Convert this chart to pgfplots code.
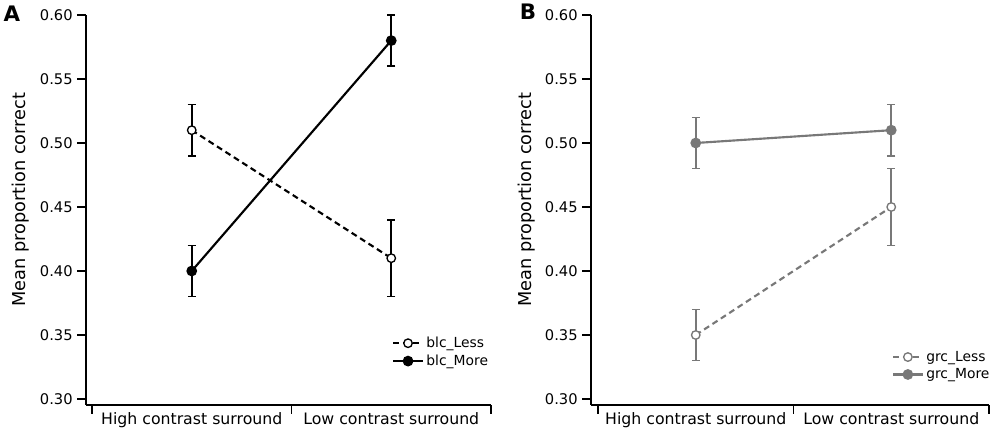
\documentclass[border=0pt]{standalone}
\usepackage{fontspec}
\setmainfont{DejaVu Sans}
\usepackage{pgfplots}
\pgfplotsset{compat=1.18}
\definecolor{grc}{RGB}{120,120,120}

\pgfplotsset{
  panel/.style={
    scale only axis,
    height=292.5pt,
    axis x line=bottom, axis y line=left,
    axis line style={line width=1.4pt, -},
    xmax=2, ymin=0.2953, ymax=0.60,
    xtick={0,1,2}, xticklabels={,,},
    extra x ticks={0.5,1.5},
    extra x tick labels={High contrast surround, Low contrast surround},
    extra x tick style={major tick length=0pt, tick style={draw=none},
      xticklabel style={font=\fontsize{11.8}{13}\selectfont, yshift=-2pt}},
    ytick={0.30,0.35,0.40,0.45,0.50,0.55,0.60},
    yticklabel style={/pgf/number format/.cd, fixed, fixed zerofill, precision=2, /tikz/.cd, font=\fontsize{11}{12}\selectfont},
    /pgf/number format/assume math mode=true,
    tick align=outside,
    major tick length=6.5pt,
    tick style={line width=1.1pt, black},
    ylabel={Mean proportion correct},
    every axis y label/.style={rotate=90, anchor=center, font=\fontsize{13.3}{15}\selectfont},
    clip=false,
    error bars/y dir=both, error bars/y explicit,
    error bars/error bar style={solid, line width=1.2pt},
    error bars/error mark options={solid, line width=1.2pt, mark size=3pt, rotate=90},
    legend cell align=left,
    legend image code/.code={\draw[mark repeat=2,mark phase=2] plot coordinates {(0pt,0pt) (11pt,0pt) (22pt,0pt)};},
    legend style={draw=none, fill=none, font=\fontsize{10.4}{12}\selectfont, anchor=north west, inner sep=0pt, row sep=0pt},
  }
}

\begin{document}
\begin{tikzpicture}
\useasboundingbox (0,0) rectangle (750pt,-325.5pt);

% Panel A
\begin{axis}[panel,
  at={(64.5pt,-303.75pt)}, anchor=south west,
  width=303.75pt, xmin=-0.030,
  every axis y label/.append style={at={(axis description cs:-0.1605,0.526)}},
  legend style={at={(axis description cs:0.7556,0.182)}},
]
\addplot[black, line width=1.6pt, dash pattern=on 4.5pt off 3pt, mark=*, mark size=3.2pt, mark options={solid, fill=white, line width=1pt}]
  coordinates {(0.5,0.51) +- (0,0.02) (1.5,0.41) +- (0,0.03)};
\addlegendentry{blc\_Less}
\addplot[black, line width=1.6pt, mark=*, mark size=3.2pt, mark options={solid, fill=black}]
  coordinates {(0.5,0.40) +- (0,0.02) (1.5,0.58) +- (0,0.02)};
\addlegendentry{blc\_More}
\end{axis}

% Panel B
\begin{axis}[panel,
  at={(443.25pt,-303.75pt)}, anchor=south west,
  width=298.5pt, xmin=-0.0358,
  every axis y label/.append style={at={(axis description cs:-0.163,0.526)}},
  legend style={at={(axis description cs:0.756,0.146)}},
]
\addplot[grc, line width=1.6pt, dash pattern=on 4.5pt off 3pt, mark=*, mark size=3.2pt, mark options={solid, fill=white, line width=1pt}]
  coordinates {(0.5,0.35) +- (0,0.02) (1.5,0.45) +- (0,0.03)};
\addlegendentry{grc\_Less}
\addplot[grc, line width=1.6pt, mark=*, mark size=3.2pt, mark options={solid, fill=grc}]
  coordinates {(0.5,0.50) +- (0,0.02) (1.5,0.51) +- (0,0.02)};
\addlegendentry{grc\_More}
\end{axis}

\node[font=\bfseries\fontsize{16}{18}\selectfont] at (9pt,-10.5pt) {A};
\node[font=\bfseries\fontsize{16}{18}\selectfont] at (396pt,-9pt) {B};
\end{tikzpicture}
\end{document}
